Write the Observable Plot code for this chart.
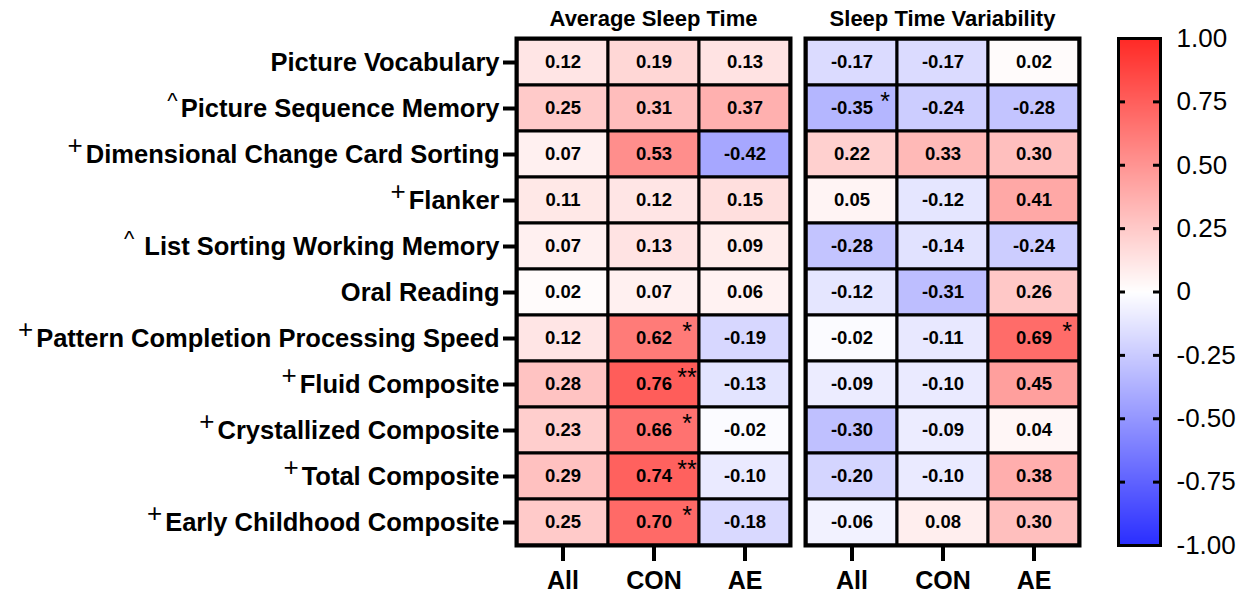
<!DOCTYPE html>
<html><head><meta charset="utf-8">
<script src="https://cdn.jsdelivr.net/npm/d3@7"></script>
<script src="https://cdn.jsdelivr.net/npm/@observablehq/plot@0.6"></script>
<style>
html,body{margin:0;padding:0;background:#fff;}
#wrap{position:relative;width:1248px;height:594px;font-family:"Liberation Sans",Arial,sans-serif;}
#wrap > svg{position:absolute;top:0;}
</style></head><body><div id="wrap"></div>
<script>
const panels = ["Average Sleep Time", "Sleep Time Variability"];
const groups = ["All", "CON", "AE"];
const measures = [
  "Picture Vocabulary",
  "^Picture Sequence Memory",
  "+Dimensional Change Card Sorting",
  "+Flanker",
  "^ List Sorting Working Memory",
  "Oral Reading",
  "+Pattern Completion Processing Speed",
  "+Fluid Composite",
  "+Crystallized Composite",
  "+Total Composite",
  "+Early Childhood Composite"
];
const avgAll = [0.12, 0.25, 0.07, 0.11, 0.07, 0.02, 0.12, 0.28, 0.23, 0.29, 0.25];
const avgCON = [0.19, 0.31, 0.53, 0.12, 0.13, 0.07, 0.62, 0.76, 0.66, 0.74, 0.70];
const avgAE  = [0.13, 0.37, -0.42, 0.15, 0.09, 0.06, -0.19, -0.13, -0.02, -0.10, -0.18];
const varAll = [-0.17, -0.35, 0.22, 0.05, -0.28, -0.12, -0.02, -0.09, -0.30, -0.20, -0.06];
const varCON = [-0.17, -0.24, 0.33, -0.12, -0.14, -0.31, -0.11, -0.10, -0.09, -0.10, 0.08];
const varAE  = [0.02, -0.28, 0.30, 0.41, -0.24, 0.26, 0.69, 0.45, 0.04, 0.38, 0.30];
const sigAvgAll = ["","","","","","","","","","",""];
const sigAvgCON = ["","","","","","","*","**","*","**","*"];
const sigAvgAE  = ["","","","","","","","","","",""];
const sigVarAll = ["","*","","","","","","","","",""];
const sigVarCON = ["","","","","","","","","","",""];
const sigVarAE  = ["","","","","","","*","","","",""];
const colorTicks = [-1, -0.75, -0.5, -0.25, 0, 0.25, 0.5, 0.75, 1];
const innerTicks = [-0.75, -0.5, -0.25, 0, 0.25, 0.5, 0.75];

const series = [
  [panels[0], groups[0], avgAll, sigAvgAll],
  [panels[0], groups[1], avgCON, sigAvgCON],
  [panels[0], groups[2], avgAE, sigAvgAE],
  [panels[1], groups[0], varAll, sigVarAll],
  [panels[1], groups[1], varCON, sigVarCON],
  [panels[1], groups[2], varAE, sigVarAE]
];
const cells = [];
for (const [panel, group, vals, sigs] of series) {
  vals.forEach((v, i) => cells.push({panel, group, measure: measures[i], value: v, sig: sigs[i]}));
}

const color = {type: "linear", domain: [-1, 0, 1], range: ["#2a2eff", "#ffffff", "#ff2a26"], clamp: true};
const font = "'Liberation Sans', Arial, sans-serif";

const main = Plot.plot({
  width: 1090, height: 594,
  marginLeft: 515, marginRight: 10, marginTop: 38, marginBottom: 49,
  style: {fontFamily: font, background: "transparent", color: "black"},
  fx: {domain: panels, padding: 0.0517, label: null},
  x: {domain: groups, padding: 0, label: null},
  y: {domain: measures, padding: 0, label: null},
  color,
  marks: [
    Plot.cell(cells, {fx: "panel", x: "group", y: "measure", fill: "value", stroke: "black", strokeWidth: 3}),
    Plot.text(cells, {fx: "panel", x: "group", y: "measure", text: d => d.value.toFixed(2), fontSize: 18.5, fontWeight: "bold", fill: "black"}),
    Plot.text(cells.filter(d => d.sig), {fx: "panel", x: "group", y: "measure", text: "sig", dx: 33, dy: -7, fontSize: 25, fill: "black"}),
    Plot.frame({stroke: "black", strokeWidth: 4}),
    Plot.axisY({anchor: "left", tickSize: 13, tickPadding: 4, strokeWidth: 4, fontSize: 25.5, fontWeight: "bold", label: null}),
    Plot.axisX({anchor: "bottom", tickSize: 16, tickPadding: 10, strokeWidth: 4, fontSize: 25, fontWeight: "bold", label: null}),
    Plot.axisFx({anchor: "top", tickSize: 0, tickPadding: 13, fontSize: 22, fontWeight: "bold", label: null})
  ]
});
main.style.left = "0px";

const ns = "http://www.w3.org/2000/svg";
main.querySelectorAll('[aria-label="y-axis tick label"] text').forEach(t => {
  const s = t.textContent;
  const p = s[0];
  if (p === "+" || p === "^") {
    t.textContent = "";
    const a = document.createElementNS(ns, "tspan");
    a.textContent = p;
    a.setAttribute("font-size", p === "+" ? "26" : "22");
    a.setAttribute("font-weight", "normal");
    a.setAttribute("dy", "-9");
    const b = document.createElementNS(ns, "tspan");
    b.textContent = s.slice(1);
    b.setAttribute("dy", "9");
    b.setAttribute("dx", "3");
    t.appendChild(a); t.appendChild(b);
  }
});

const bar = Plot.plot({
  width: 148, height: 594,
  marginLeft: 18, marginRight: 88, marginTop: 38, marginBottom: 49,
  style: {fontFamily: font, background: "transparent", color: "black"},
  x: {domain: [0, 1], axis: null},
  y: {domain: [-1, 1], axis: null},
  color,
  marks: [
    Plot.raster({fill: (x, y) => y, x1: 0, x2: 1, y1: -1, y2: 1}),
    Plot.tickY(innerTicks, {y: d => d, insetRight: 35, strokeWidth: 3}),
    Plot.tickY(innerTicks, {y: d => d, insetLeft: 35, strokeWidth: 3}),
    Plot.frame({stroke: "black", strokeWidth: 3}),
    Plot.axisY({anchor: "right", ticks: colorTicks, tickSize: 0, tickPadding: 16, fontSize: 26,
      tickFormat: d => d === 0 ? "0" : d.toFixed(2), label: null})
  ]
});
bar.style.left = "1100px";

const wrap = document.getElementById("wrap");
wrap.appendChild(main);
wrap.appendChild(bar);
</script>
</body></html>
